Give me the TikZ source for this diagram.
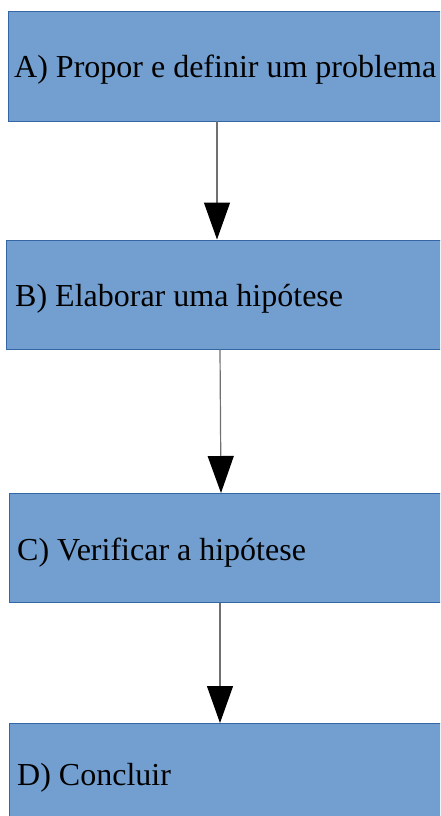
\documentclass[tikz,border=0pt]{standalone}
\usepackage{fontspec}
\setmainfont{Liberation Serif}
\usetikzlibrary{arrows.meta,calc}
\definecolor{boxfill}{HTML}{729FCF}
\definecolor{boxline}{HTML}{3465A4}
\definecolor{wire}{HTML}{707070}
\begin{document}
\begin{tikzpicture}[x=1pt,y=1pt,
  stepbox/.style={draw=boxline, line width=0.8pt, fill=boxfill, rectangle,
    anchor=north west, minimum height=109pt, inner sep=0pt},
  steptext/.style={anchor=base west, inner sep=0pt,
    font=\fontsize{32}{36}\selectfont},
  flow/.style={draw=wire, line width=1.2pt,
    -{Triangle[width=26pt,length=37pt,color=black,fill=black]}}]
  \clip (0,0) rectangle (440,-816);
  \fill[white] (0,0) rectangle (440,-816);
  % four stacked steps, each running off the right edge
  \node[stepbox, minimum width=440pt] (A) at (8,-11.5) {};
  \node[stepbox, minimum width=442pt] (B) at (6,-239.5) {};
  \node[stepbox, minimum width=440pt] (C) at (9,-493) {};
  \node[stepbox, minimum width=440pt] (D) at (9,-723) {};
  % step captions
  \node[steptext] (At) at ($(A.north west)+(6,-66)$) {A) Propor e definir um problema};
  \node[steptext] (Bt) at ($(B.north west)+(9,-66.5)$) {B) Elaborar uma hipótese};
  \node[steptext] (Ct) at ($(C.north west)+(8,-67)$) {C) Verificar a hipótese};
  \node[steptext] (Dt) at ($(D.north west)+(8,-62)$) {D) Concluir};
  % connectors
  \draw[flow] (217,0 |- A.south) -- (217,0 |- B.north);
  \draw[flow] (220,0 |- B.south) -- (221,0 |- C.north);
  \draw[flow] (220,0 |- C.south) -- (220,0 |- D.north);
\end{tikzpicture}
\end{document}
